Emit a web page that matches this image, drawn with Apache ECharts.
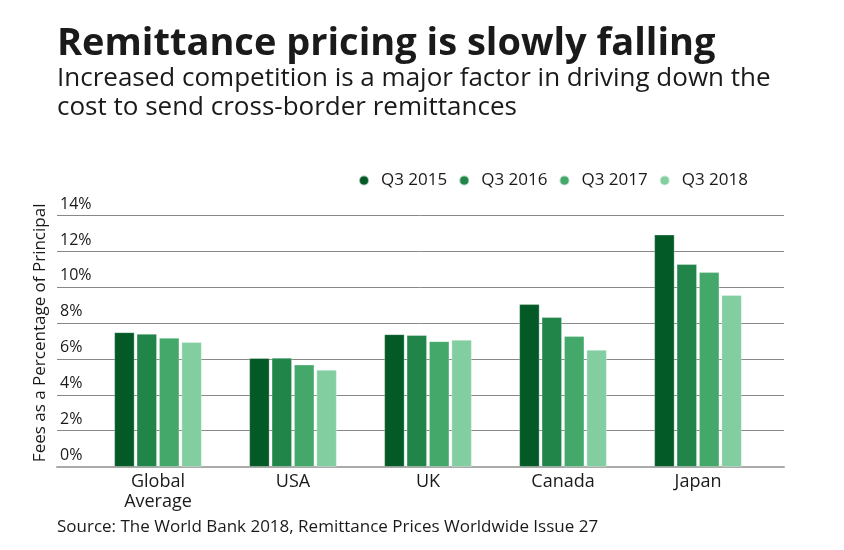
<!DOCTYPE html>
<html>
<head>
<meta charset="utf-8">
<script src="https://cdn.jsdelivr.net/npm/echarts@6/dist/echarts.min.js"></script>
<style>
  html, body { margin: 0; padding: 0; background: #fff; }
  #chart { width: 844px; height: 550px; }
</style>
</head>
<body>
<div id="chart"></div>
<script>
const categories = ['Global Average', 'USA', 'UK', 'Canada', 'Japan'];
const seriesNames = ['Q3 2015', 'Q3 2016', 'Q3 2017', 'Q3 2018'];
const q32015 = [7.47, 6.03, 7.36, 9.03, 12.9];
const q32016 = [7.38, 6.05, 7.31, 8.31, 11.26];
const q32017 = [7.16, 5.67, 6.97, 7.25, 10.81];
const q32018 = [6.92, 5.38, 7.05, 6.49, 9.53];
const seriesData = [q32015, q32016, q32017, q32018];
const colors = ['#045a27', '#21854a', '#43a86a', '#82cea0'];

const font = 'Open Sans';
const textColor = '#1a1a1a';

const chart = echarts.init(document.getElementById('chart'));

let option = {
  color: colors,
  graphic: [
    { type: 'text', x: 57, y: 44, style: { text: 'Remittance pricing is slowly falling', font: 'bold 38px "' + font + '"', fill: textColor, verticalAlign: 'middle' } },
    { type: 'text', x: 57, y: 79, style: { text: 'Increased competition is a major factor in driving down the', font: '26px "' + font + '"', fill: textColor, verticalAlign: 'middle' } },
    { type: 'text', x: 57, y: 108, style: { text: 'cost to send cross-border remittances', font: '26px "' + font + '"', fill: textColor, verticalAlign: 'middle' } },
    { type: 'text', x: 57, y: 527, style: { text: 'Source: The World Bank 2018, Remittance Prices Worldwide Issue 27', font: '17px "' + font + '"', fill: textColor, verticalAlign: 'middle' } }
  ],
  legend: {
    data: seriesNames,
    left: 353,
    top: 167,
    icon: 'circle',
    itemWidth: 24,
    itemHeight: 10,
    itemGap: 11,
    textStyle: { fontFamily: font, fontSize: 17, color: textColor }
  },
  grid: [
    { left: 90.5, right: 78.5, top: 215, bottom: 83.3 },
    { left: 57, right: 60, top: 215, bottom: 83.3 }
  ],
  xAxis: [
    {
      type: 'category',
      gridIndex: 0,
      data: categories,
      axisLine: { show: false },
      axisTick: { show: false },
      axisLabel: {
        margin: 5,
        fontFamily: font,
        fontSize: 18,
        lineHeight: 20,
        color: textColor,
        formatter: function (v) { return v.replace(' ', '\n'); }
      }
    },
    {
      type: 'value',
      gridIndex: 1,
      min: 0,
      max: 1,
      axisLine: { show: true, lineStyle: { color: '#aaaaaa', width: 2 } },
      axisTick: { show: false },
      axisLabel: { show: false },
      splitLine: { show: false }
    }
  ],
  yAxis: [
    {
      type: 'value',
      gridIndex: 0,
      min: 0,
      max: 14,
      interval: 2,
      show: false
    },
    {
      type: 'value',
      gridIndex: 1,
      min: 0,
      max: 14,
      interval: 2,
      name: 'Fees as a Percentage of Principal',
      nameLocation: 'middle',
      nameGap: 8,
      nameTextStyle: { fontFamily: font, fontSize: 17, color: textColor, padding: [0, 0, 0, 16] },
      axisLine: { show: false },
      axisTick: { show: false },
      axisLabel: {
        inside: true,
        margin: 3,
        verticalAlign: 'bottom',
        padding: [0, 0, 3, 0],
        fontFamily: font,
        fontSize: 16,
        color: textColor,
        formatter: '{value}%'
      },
      splitLine: { lineStyle: { color: '#888888', width: 1 } }
    }
  ],
  series: seriesNames.map(function (name, i) {
    return {
      name: name,
      type: 'bar',
      xAxisIndex: 0,
      yAxisIndex: 0,
      barWidth: 20,
      barGap: '12%',
      itemStyle: { color: colors[i], borderColor: 'rgba(255,255,255,0.6)', borderWidth: 0.5 },
      data: seriesData[i]
    };
  })
};

chart.setOption(option);
</script>
</body>
</html>
